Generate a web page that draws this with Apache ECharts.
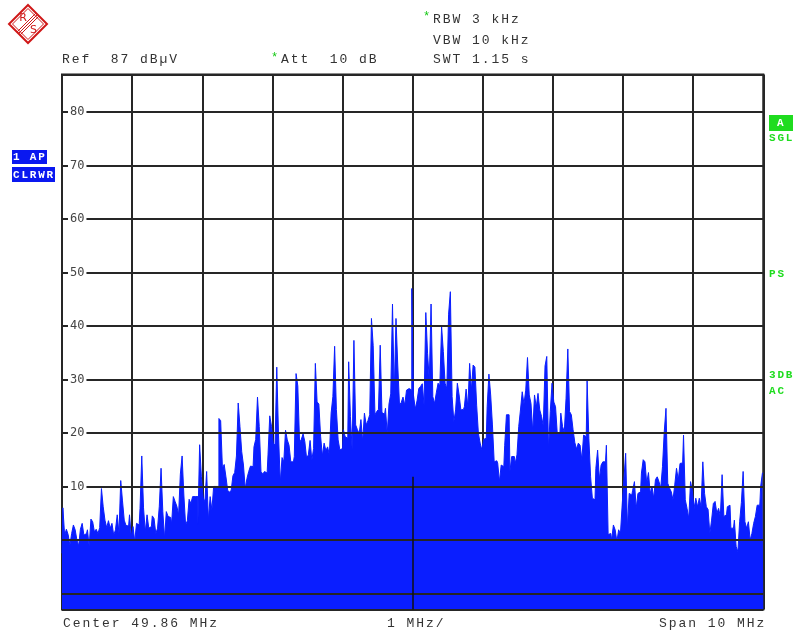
<!DOCTYPE html>
<html>
<head>
<meta charset="utf-8">
<script src="https://cdn.jsdelivr.net/npm/echarts@6/dist/echarts.min.js"></script>
<style>
  html, body { margin: 0; padding: 0; background: #fff; }
  #chart { width: 793px; height: 632px; }
</style>
</head>
<body>
<div id="chart"></div>
<script>
// level axis, dBµV
const refLevel = 87
const bottomLevel = -13
const levelLabels = [80, 70, 60, 50, 40, 30, 20, 10]
// frequency axis, MHz from start of span
const spanMHz = 10
const centerMHz = 5
const centerMarkTop = 11.8

// trace peaks, 40 readings per 1 MHz division
const div1 = [-2.5, 6.0, 0.9, 2.0, 1.0, -1.0, 1.2, 2.8, 1.9, 0.0, -1.1, 2.0, 3.1, 0.9, 1.2, 1.9, -1.2, 3.9, 3.4, 1.5,
  2.0, 1.2, 2.3, 9.6, 6.2, 3.7, 2.3, 3.6, 2.2, 3.1, 0.9, 1.9, 4.7, 1.2, 11.1, 7.3, 3.7, 2.7, 2.6, 4.7]
const div2 = [0.6, 2.5, -0.3, 3.1, 2.8, 5.9, 15.7, 6.0, 1.5, 4.7, 2.2, 2.5, 4.5, 4.0, 1.2, 2.2, 6.3, 13.4, 5.3, 0.3,
  5.3, 4.4, 4.2, 3.0, 8.1, 7.2, 6.3, 4.7, 12.3, 15.7, 8.4, 2.8, 3.6, 7.6, 6.8, 8.1, 8.1, 8.1, 2.8, 17.8]
const div3 = [11.8, 8.0, 7.1, 12.8, 3.7, 8.1, 5.6, 10.0, 10.0, 10.0, 22.7, 22.3, 13.4, 14.1, 11.8, 9.3, 8.9, 9.3, 12.0, 12.6,
  15.7, 25.6, 21.2, 16.5, 14.0, 9.6, 11.5, 12.8, 13.8, 13.7, 17.4, 18.8, 26.7, 21.2, 12.8, 12.3, 12.8, 12.5, 15.9, 23.2]
const div4 = [21.2, 18.1, 17.7, 32.3, 19.6, 10.7, 15.4, 14.6, 20.5, 18.7, 17.7, 14.6, 14.6, 15.6, 31.1, 28.8, 18.2, 18.8, 19.8, 18.4,
  15.3, 15.9, 18.6, 14.9, 17.1, 33.0, 25.8, 25.4, 19.4, 15.7, 18.1, 16.7, 17.4, 15.9, 23.7, 26.8, 36.2, 24.4, 18.7, 16.8]
const div5 = [17.1, 20.6, 19.3, 19.0, 33.3, 23.1, 16.8, 37.3, 21.5, 20.6, 19.9, 22.5, 18.4, 23.7, 21.5, 22.3, 23.4, 41.4, 36.3, 23.4,
  24.0, 24.4, 36.4, 23.8, 23.5, 24.6, 19.8, 25.4, 27.3, 44.1, 27.4, 41.4, 32.7, 25.2, 25.7, 26.7, 25.2, 28.0, 28.3, 28.0]
const div6 = [47.0, 27.0, 24.5, 26.0, 28.3, 28.7, 29.2, 25.2, 42.5, 34.9, 29.9, 44.1, 26.8, 25.5, 27.5, 29.3, 28.8, 39.9, 35.2, 29.3,
  28.3, 42.2, 46.4, 26.8, 22.1, 24.3, 29.3, 27.1, 24.3, 24.4, 24.9, 28.2, 24.8, 33.0, 28.0, 32.7, 32.3, 25.2, 19.9, 18.1]
const div7 = [16.8, 18.8, 19.0, 24.9, 31.0, 27.1, 21.5, 14.6, 14.8, 14.4, 10.9, 14.0, 13.7, 17.7, 23.4, 23.4, 12.8, 15.6, 15.6, 14.3,
  15.9, 21.2, 24.3, 27.7, 25.4, 28.0, 34.1, 27.1, 25.5, 20.2, 27.1, 24.8, 27.4, 24.3, 23.1, 21.3, 32.5, 34.3, 16.8, 24.0]
const div8 = [29.3, 25.8, 24.9, 19.8, 20.0, 23.7, 21.2, 20.2, 26.5, 35.7, 24.0, 23.4, 20.6, 18.2, 17.0, 18.1, 17.7, 15.0, 19.6, 19.3,
  29.8, 19.0, 11.8, 7.8, 7.5, 13.4, 16.8, 11.3, 14.0, 14.6, 14.6, 17.7, 1.0, 1.2, 0.0, 2.8, 1.9, -0.3, 1.9, 1.1]
const div9 = [6.5, 11.3, 16.2, 2.2, 8.7, 8.4, 9.3, 10.9, 5.9, 8.7, 9.0, 12.5, 15.0, 14.6, 10.6, 12.6, 8.7, 10.0, 7.8, 11.3,
  11.8, 10.9, 9.7, 13.7, 20.2, 24.6, 10.6, 9.7, 9.0, 7.5, 10.3, 13.4, 11.2, 14.3, 14.4, 19.6, 7.5, 5.9, 4.0, 10.9]
const div10 = [9.3, 5.9, 7.8, 6.2, 7.8, 6.2, 14.6, 8.7, 6.2, 5.7, 1.2, 3.7, 6.8, 7.2, 5.0, 5.9, 4.4, 12.2, 4.4, 4.7,
  6.2, 6.5, 2.2, 2.2, 3.7, -1.2, -2.2, 3.4, 7.0, 12.8, 3.4, 2.2, 3.4, 0.0, 1.2, 3.1, 4.4, 6.5, 6.5, 10.0, 12.5]

const divisions = [div1, div2, div3, div4, div5, div6, div7, div8, div9, div10]
const perDiv = 40

const traceData = []
divisions.forEach((vals, d) => {
  vals.forEach((v, j) => traceData.push([d + j / perDiv, v]))
})

const MONO = '"Liberation Mono", "DejaVu Sans Mono", monospace'
const textGray = '#333'
const green = '#1fdc1f'
const traceBlue = '#0a1eff'

// fixed pitch text, one element per character
function monoText(str, x, y, opts) {
  const o = Object.assign({ pitch: 9.75, size: 13, color: textGray, weight: 'normal' }, opts)
  const out = []
  for (let i = 0; i < str.length; i++) {
    if (str[i] === ' ') continue
    out.push({
      type: 'text',
      x: x + i * o.pitch,
      y: y,
      silent: true,
      style: {
        text: str[i],
        fill: o.color,
        font: o.weight + ' ' + o.size + 'px ' + MONO,
        textAlign: 'left',
        textVerticalAlign: 'middle',
        align: 'left',
        verticalAlign: 'middle'
      }
    })
  }
  return out
}

function star(x, y) {
  return monoText('*', x, y, { color: '#12c812', size: 12 })
}

function boxLabel(str, x, y, w, h, fill, pitch) {
  return [{
    type: 'rect',
    shape: { x: x, y: y, width: w, height: h },
    style: { fill: fill },
    silent: true
  }].concat(monoText(str, x + 1, y + h / 2 + 0.5, { color: '#fff', size: 11, weight: 'bold', pitch: pitch }))
}

// R&S logo
const logoRed = '#d01818'
const logo = [
  { type: 'polygon', shape: { points: [[28, 5], [47, 24], [28, 43], [9, 24]] }, style: { fill: 'none', stroke: logoRed, lineWidth: 2 } },
  { type: 'polygon', shape: { points: [[28, 8.5], [43.5, 24], [28, 39.5], [12.5, 24]] }, style: { fill: 'none', stroke: logoRed, lineWidth: 1 } },
  { type: 'line', shape: { x1: 17, y1: 32, x2: 36, y2: 13 }, style: { stroke: logoRed, lineWidth: 1 } },
  { type: 'line', shape: { x1: 18.5, y1: 33.5, x2: 37.5, y2: 14.5 }, style: { stroke: logoRed, lineWidth: 1 } },
  { type: 'line', shape: { x1: 20, y1: 35, x2: 39, y2: 16 }, style: { stroke: logoRed, lineWidth: 1 } },
  { type: 'text', x: 23, y: 18, style: { text: 'R', fill: logoRed, font: '11px "DejaVu Sans"', align: 'center', verticalAlign: 'middle', textAlign: 'center', textVerticalAlign: 'middle' } },
  { type: 'text', x: 33.5, y: 30.5, style: { text: 'S', fill: logoRed, font: '11px "DejaVu Sans"', align: 'center', verticalAlign: 'middle', textAlign: 'center', textVerticalAlign: 'middle' } }
]

const texts = [].concat(
  star(423, 17), monoText('RBW 3 kHz', 433, 19.5),
  monoText('VBW 10 kHz', 433, 40.5),
  monoText('SWT 1.15 s', 433, 60),
  monoText('Ref  87 dBµV', 62, 60),
  star(271, 58), monoText('Att  10 dB', 281, 60),
  monoText('Center 49.86 MHz', 63, 624),
  monoText('1 MHz/', 387, 624),
  monoText('Span 10 MHz', 659, 624),
  boxLabel('1 AP', 12, 150, 35, 14, '#0a18f0', 8.4),
  boxLabel('CLRWR', 12, 167, 43, 15, '#0a18f0', 8.4),
  boxLabel('A', 769, 115, 24, 16, green, 8.4).map(e => e.type === 'text' ? Object.assign(e, { x: 777 }) : e),
  monoText('SGL', 769, 138.5, { color: green, size: 11, weight: 'bold', pitch: 8.4 }),
  monoText('PS', 769, 274, { color: green, size: 11, weight: 'bold', pitch: 8.4 }),
  monoText('3DB', 769, 375, { color: green, size: 11, weight: 'bold', pitch: 8.4 }),
  monoText('AC', 769, 391, { color: green, size: 11, weight: 'bold', pitch: 8.4 })
)

const chart = echarts.init(document.getElementById('chart'), null, { renderer: 'canvas' })
chart.setOption({
  backgroundColor: '#ffffff',
  animation: false,
  grid: {
    left: 62,
    top: 74.5,
    width: 701.3,
    height: 535,
    show: true,
    borderColor: '#1a1a1a',
    borderWidth: 2
  },
  xAxis: {
    type: 'value',
    min: 0,
    max: spanMHz,
    interval: 1,
    axisLine: { show: false },
    axisTick: { show: false },
    axisLabel: { show: false },
    splitLine: { show: true, lineStyle: { color: '#262626', width: 2 } }
  },
  yAxis: {
    type: 'value',
    min: bottomLevel,
    max: refLevel,
    splitNumber: 10,
    z: 3,
    axisLine: { show: false },
    axisTick: { show: false },
    axisLabel: {
      inside: true,
      margin: 6,
      color: '#444',
      fontFamily: '"DejaVu Sans Mono", monospace',
      fontSize: 12,
      backgroundColor: '#fff',
      padding: [0, 2, 0, 2],
      showMinLabel: false,
      showMaxLabel: false,
      formatter: v => levelLabels.includes(v) ? String(v) : ''
    },
    splitLine: { show: true, lineStyle: { color: '#262626', width: 2 } }
  },
  series: [{
    type: 'line',
    data: traceData,
    step: 'middle',
    symbol: 'none',
    showSymbol: false,
    clip: true,
    z: 2,
    lineStyle: { color: traceBlue, width: 1 },
    areaStyle: { color: traceBlue, opacity: 1, origin: 'start' },
    markLine: {
      silent: true,
      symbol: 'none',
      label: { show: false },
      lineStyle: { color: '#111', width: 1.5, type: 'solid' },
      data: [[{ coord: [centerMHz, bottomLevel] }, { coord: [centerMHz, centerMarkTop] }]]
    }
  }],
  graphic: { elements: logo.concat(texts) }
})
</script>
</body>
</html>
